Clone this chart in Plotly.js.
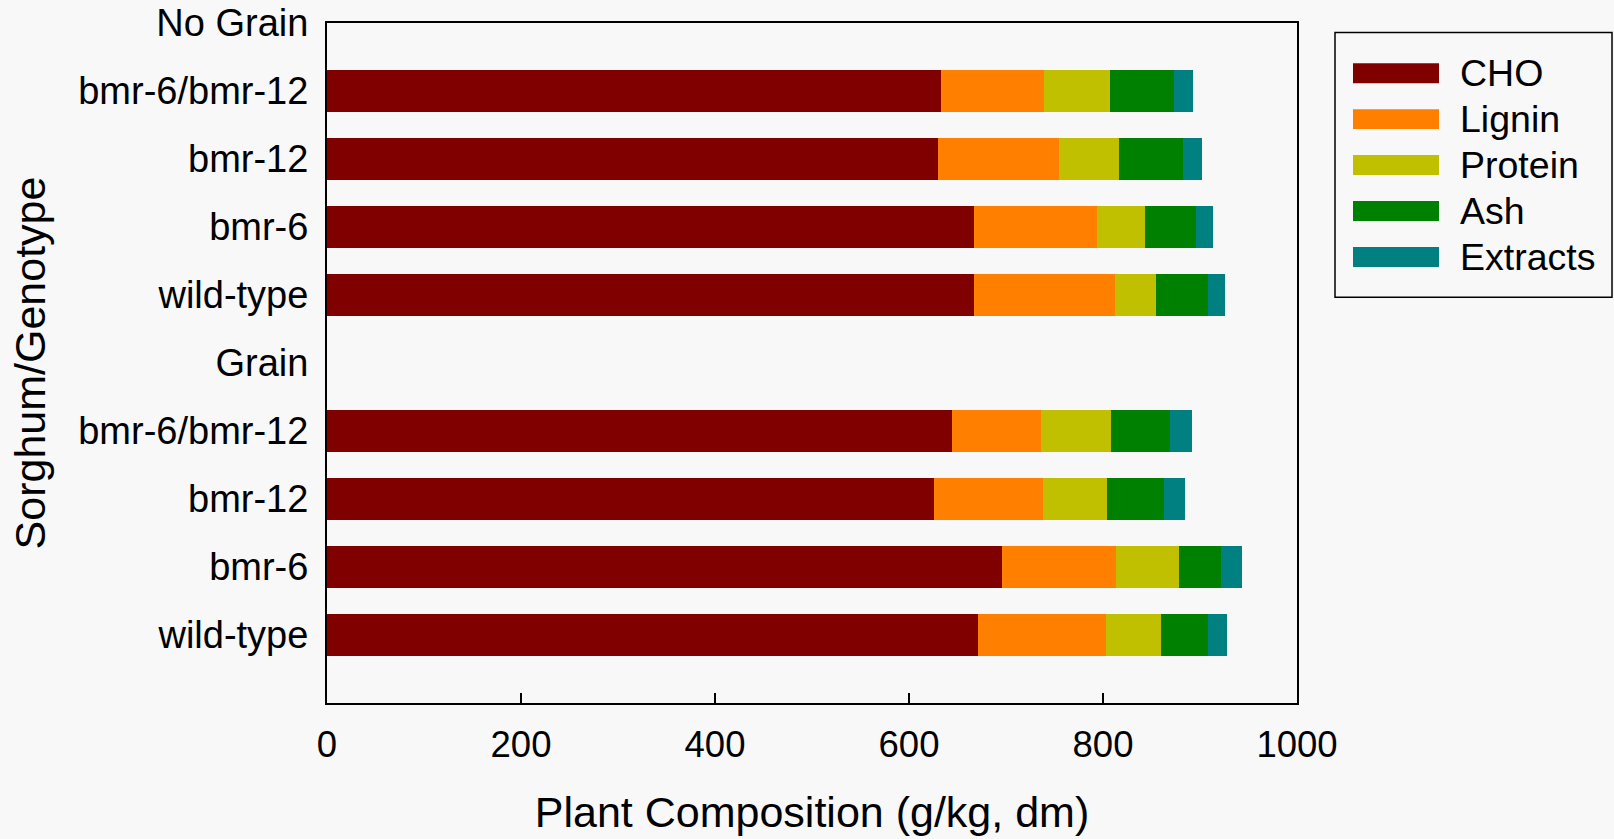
<!DOCTYPE html>
<html><head><meta charset="utf-8">
<script src="https://cdn.plot.ly/plotly-3.0.1.min.js"></script>
<style>html,body{margin:0;padding:0;background:#f8f8f8;}#chart{width:1614px;height:839px;}</style>
</head><body><div id="chart"></div>
<script>
// Row labels, top to bottom
const rowLabels = ["No Grain","bmr-6/bmr-12","bmr-12","bmr-6","wild-type","Grain","bmr-6/bmr-12","bmr-12","bmr-6","wild-type"];
// Series values per row (null for group header rows)
const CHO      = [null, 633, 630, 667, 667, null, 644, 626, 696, 671];
const Lignin   = [null, 106, 125, 127, 145, null,  92, 112, 117, 132];
const Protein  = [null,  68,  61,  49,  43, null,  72,  66,  65,  57];
const Ash      = [null,  66,  66,  53,  53, null,  61,  59,  44,  48];
const Extracts = [null,  20,  20,  17,  18, null,  23,  22,  21,  20];
const seriesNames = ["CHO","Lignin","Protein","Ash","Extracts"];
const seriesColors = ["#800000","#ff8000","#c0c000","#008000","#008080"];
const xTicks = [0,200,400,600,800,1000];

const seriesData = [CHO, Lignin, Protein, Ash, Extracts];
const n = rowLabels.length;
const yPos = rowLabels.map((_, i) => n - i); // top row highest

const traces = seriesData.map((vals, k) => ({
  type: 'bar', orientation: 'h',
  x: vals, y: yPos, name: seriesNames[k],
  marker: {color: seriesColors[k], line: {width: 0}},
  width: 0.61, showlegend: false, hoverinfo: 'x+name'
}));

// Legend built from series names/colors
const shapes = [{type:'rect', xref:'paper', yref:'paper', x0:(1335-327)/970, x1:(1612-327)/970,
  y0:(703-297)/680.5, y1:(703-32)/680.5, line:{color:'#000', width:1.5}, fillcolor:'rgba(0,0,0,0)'}];
const annotations = [];
seriesNames.forEach((nm, k) => {
  const cy = 72.7 + k*46;
  shapes.push({type:'rect', xref:'paper', yref:'paper', x0:(1353-327)/970, x1:(1439-327)/970,
    y0:(703-(cy+10))/680.5, y1:(703-(cy-10))/680.5, line:{width:0}, fillcolor:seriesColors[k]});
  annotations.push({xref:'paper', yref:'paper', x:(1458-327)/970, y:(703-cy)/680.5,
    xanchor:'left', yanchor:'middle', text:nm, showarrow:false,
    font:{family:'Liberation Sans, Arial, sans-serif', size:37.5, color:'#000'}});
});

const layout = {
  width:1614, height:839,
  paper_bgcolor:'#f8f8f8', plot_bgcolor:'#f8f8f8',
  margin:{l:327, r:317, t:23, b:136},
  barmode:'stack',
  font:{family:'Liberation Sans, Arial, sans-serif', color:'#000'},
  xaxis:{range:[0,1000], tickvals:xTicks, ticks:'inside', ticklen:10, tickwidth:1.5, tickcolor:'#000',
    showline:true, linecolor:'#000', linewidth:2, mirror:true, showgrid:false, zeroline:false,
    tickfont:{size:36.5}, ticklabelstandoff:8,
    title:{text:'Plant Composition (g/kg, dm)', font:{size:43}, standoff:33}},
  yaxis:{range:[0,n], tickvals:yPos, ticktext:rowLabels, ticks:'',
    showline:true, linecolor:'#000', linewidth:2, mirror:true, showgrid:false, zeroline:false,
    tickfont:{size:38}, ticklabelstandoff:9,
    title:{text:'Sorghum/Genotype', font:{size:43}, standoff:19}},
  shapes: shapes, annotations: annotations, showlegend:false
};
Plotly.newPlot('chart', traces, layout, {displayModeBar:false, staticPlot:true});
</script></body></html>
